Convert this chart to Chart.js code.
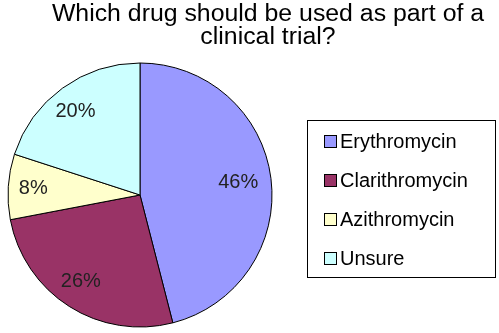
<!DOCTYPE html>
<html>
<head>
<meta charset="utf-8">
<script src="https://cdn.jsdelivr.net/npm/chart.js@4"></script>
<style>
  body { margin: 0; background: #fff; }
  #wrap { width: 499px; height: 333px; }
</style>
</head>
<body>
<div id="wrap"><canvas id="drugChart" width="499" height="333"></canvas></div>
<script>
// --------------- Data -----------------
const titleLines = ["Which drug should be used as part of a", "clinical trial?"];
const drugs = ["Erythromycin", "Clarithromycin", "Azithromycin", "Unsure"];
const shares = [46, 26, 8, 20];
const sliceColors = ["#9999FF", "#993366", "#FFFFCC", "#CCFFFF"];

const FONT = "'Liberation Sans', Arial, sans-serif";

// --------------- Title, percent labels and boxed legend -----------------
const extrasPlugin = {
  id: "extras",
  afterDraw(chart) {
    const ctx = chart.ctx;
    ctx.save();

    // title (slightly wide lettering like the original)
    ctx.fillStyle = "#000";
    ctx.textAlign = "center";
    ctx.textBaseline = "alphabetic";
    ctx.font = "23px " + FONT;
    titleLines.forEach((line, i) => {
      ctx.save();
      ctx.translate(268, 21 + i * 23);
      ctx.scale(1.08, 1);
      ctx.fillText(line, 0, 0);
      ctx.restore();
    });

    // percent labels inside the slices
    const arcs = chart.getDatasetMeta(0).data;
    ctx.textBaseline = "middle";
    ctx.font = "20px " + FONT;
    ctx.fillStyle = "#222";
    arcs.forEach((arc, i) => {
      const p = arc.getProps(["x", "y", "startAngle", "endAngle", "outerRadius"]);
      const mid = (p.startAngle + p.endAngle) / 2;
      const r = p.outerRadius * 0.78;
      ctx.fillText(shares[i] + "%", p.x + Math.cos(mid) * r - 4, p.y + Math.sin(mid) * r);
    });

    // legend box
    ctx.strokeStyle = "#000";
    ctx.lineWidth = 1;
    ctx.strokeRect(307.5, 120.5, 188, 157);
    ctx.textAlign = "left";
    ctx.textBaseline = "alphabetic";
    ctx.font = "20px " + FONT;
    drugs.forEach((name, i) => {
      const y = 141 + i * 39;
      ctx.fillStyle = sliceColors[i];
      ctx.fillRect(325, y - 5, 11, 11);
      ctx.strokeRect(324.5, y - 5.5, 12, 12);
      ctx.fillStyle = "#000";
      ctx.fillText(name, 340, y + 7);
    });

    ctx.restore();
  }
};

// --------------- Pie -----------------
new Chart(document.getElementById("drugChart").getContext("2d"), {
  type: "pie",
  data: {
    labels: drugs,
    datasets: [{
      data: shares,
      backgroundColor: sliceColors,
      borderColor: "#000",
      borderWidth: 1,
      radius: 132
    }]
  },
  options: {
    responsive: false,
    animation: false,
    layout: { padding: { left: 0, right: 219, top: 61, bottom: 4 } },
    plugins: {
      legend: { display: false },
      tooltip: { enabled: false }
    }
  },
  plugins: [extrasPlugin]
});
</script>
</body>
</html>
